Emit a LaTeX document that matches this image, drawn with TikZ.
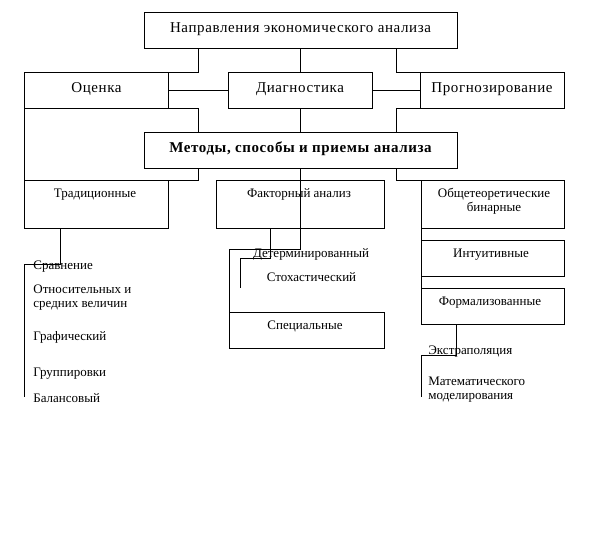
\documentclass[tikz,border=0pt]{standalone}
\usepackage{fontspec}
\setmainfont{Liberation Serif}
\begin{document}
\begin{tikzpicture}[x=1pt,y=-1pt, line width=0.8pt,
  box/.style={draw, rectangle, inner sep=0pt, outer sep=0pt},
  big/.style={font=\fontsize{15}{18}\selectfont\addfontfeatures{LetterSpace=4}},
  bigb/.style={font=\fontsize{15}{18}\selectfont\bfseries\addfontfeatures{LetterSpace=4}},
  sml/.style={font=\fontsize{13}{14.5}\selectfont},
  lbl/.style={inner sep=0pt, anchor=base},
  lbll/.style={inner sep=0pt, anchor=base west}]
\useasboundingbox (0,0) rectangle (589,541);
% boxes
\node[box, minimum width=313pt, minimum height=36pt] (top) at (300.5,30) {};
\node[box, minimum width=144pt, minimum height=36pt] (ocenka) at (96,90) {};
\node[box, minimum width=144pt, minimum height=36pt] (diag) at (300,90) {};
\node[box, minimum width=144pt, minimum height=36pt] (prog) at (492,90) {};
\node[box, minimum width=313pt, minimum height=36pt] (metody) at (300.5,150) {};
\node[box, minimum width=144pt, minimum height=48pt] (trad) at (96,204) {};
\node[box, minimum width=168pt, minimum height=48pt] (fact) at (300,204) {};
\node[box, minimum width=143pt, minimum height=48pt] (obsh) at (492.5,204) {};
\node[box, minimum width=143pt, minimum height=36pt] (intu) at (492.5,258) {};
\node[box, minimum width=143pt, minimum height=36pt] (form) at (492.5,306) {};
\node[box, minimum width=155pt, minimum height=36pt] (spec) at (306.5,330) {};
% texts
\node[lbl,big] (topT) at (300.5,32) {Направления экономического анализа};
\node[lbl,big] (ocT) at (96.5,92) {Оценка};
\node[lbl,big] (diT) at (300,92) {Диагностика};
\node[lbl,big] (prT) at (492,92.5) {Прогнозирование};
\node[lbl,bigb] (meT) at (300.5,152.5) {Методы, способы и приемы анализа};
\node[lbl,sml] (trT) at (95,197.5) {Традиционные};
\node[lbl,sml] (faT) at (299,197.5) {Факторный анализ};
\node[lbl,sml] (ob1) at (494,197.5) {Общетеоретические};
\node[lbl,sml] (ob2) at (494,211.5) {бинарные};
\node[lbl,sml] (inT) at (491,257.5) {Интуитивные};
\node[lbl,sml] (foT) at (490,305) {Формализованные};
\node[lbl,sml] (spT) at (305,329) {Специальные};
\node[lbl,sml] (deT) at (311,257) {Детерминированный};
\node[lbl,sml] (stT) at (311.5,281) {Стохастический};
\node[lbll,sml] (l1) at (33,269) {Сравнение};
\node[lbll,sml] (l2) at (33,293.3) {Относительных и};
\node[lbll,sml] (l3) at (33,307.5) {средних величин};
\node[lbll,sml] (l4) at (33,340.7) {Графический};
\node[lbll,sml] (l5) at (33,376.7) {Группировки};
\node[lbll,sml] (l6) at (33,402) {Балансовый};
\node[lbll,sml] (r1) at (428,354) {Экстраполяция};
\node[lbll,sml] (r2) at (428,385) {Математического};
\node[lbll,sml] (r3) at (428,399.5) {моделирования};
% free-end coordinates
\coordinate (trJ) at (24,264);
\coordinate (trEnd) at (24,397);
\coordinate (faJ) at (240,258);
\coordinate (faEnd) at (240,288);
\coordinate (foJ) at (421,355);
\coordinate (foEnd) at (421,397);
% connectors
\draw ([xshift=54pt]top.south west) |- (ocenka.north east);
\draw (top.south) -- (top.south |- diag.north);
\draw ([xshift=-61pt]top.south east) |- (prog.north west);
\draw (ocenka.east) -- (diag.west);
\draw (diag.east) -- (prog.west);
\draw (ocenka.south east) -| ([xshift=54pt]metody.north west);
\draw (diag.south) -- (diag.south |- metody.north);
\draw (prog.south west) -| ([xshift=-61pt]metody.north east);
\draw (ocenka.south west) -- (trad.north west);
\draw ([xshift=54pt]metody.south west) |- (trad.north east);
\draw (metody.south) |- ([yshift=63pt]spec.north west) -- (spec.north west);
\draw ([xshift=-61pt]metody.south east) |- (obsh.north west);
\draw (obsh.south west) -- (intu.north west);
\draw (intu.south west) -- (form.north west);
\draw ([xshift=36pt]trad.south west) |- (trJ) -- (trEnd);
\draw ([xshift=54pt]fact.south west) |- (faJ) -- (faEnd);
\draw ([xshift=35pt]form.south west) |- (foJ) -- (foEnd);
\end{tikzpicture}
\end{document}
